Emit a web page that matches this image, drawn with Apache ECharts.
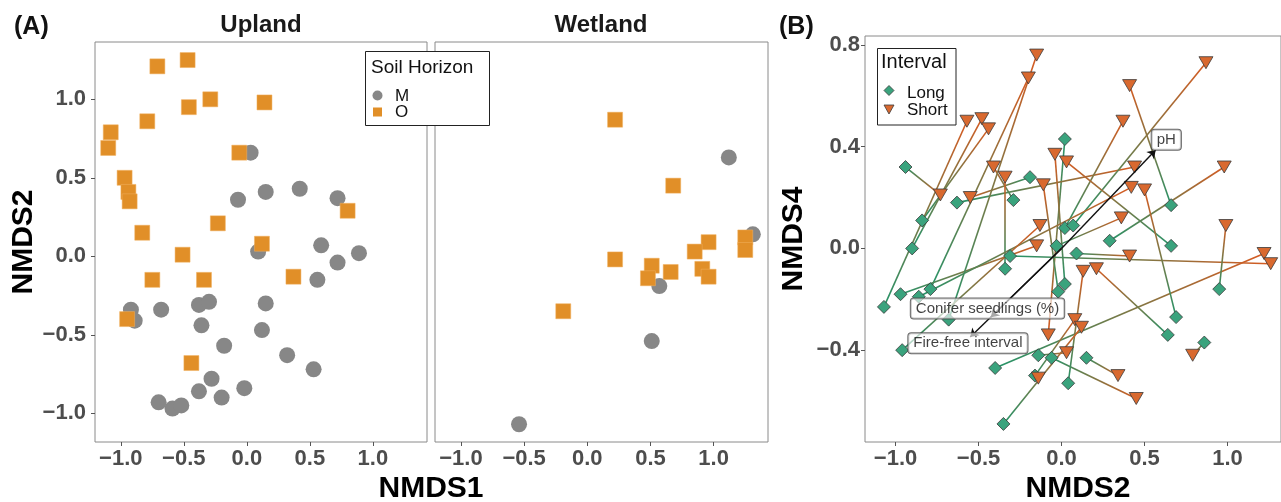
<!DOCTYPE html>
<html>
<head>
<meta charset="utf-8">
<title>NMDS</title>
<script src="https://cdn.jsdelivr.net/npm/echarts@6/dist/echarts.min.js"></script>
<style>
  html, body { margin: 0; padding: 0; background: #fff; }
  #main { width: 1281px; height: 502px; }
</style>
</head>
<body>
<div id="main"></div>
<script>
// ---- panel A : soil horizon, NMDS1 x NMDS2 ----
const uplandM = [[0.03,0.66],[-0.07,0.36],[0.15,0.41],[0.42,0.43],[0.72,0.37],[0.59,0.07],[0.89,0.02],[0.09,0.03],
  [0.72,-0.04],[0.56,-0.15],[-0.92,-0.34],[-0.89,-0.41],[-0.68,-0.34],[-0.38,-0.31],[-0.30,-0.29],[0.15,-0.30],
  [-0.36,-0.44],[0.12,-0.47],[-0.18,-0.57],[0.32,-0.63],[0.53,-0.72],[-0.28,-0.78],[-0.38,-0.86],[-0.02,-0.84],
  [-0.20,-0.90],[-0.70,-0.93],[-0.59,-0.97],[-0.52,-0.95]];
const uplandO = [[-0.71,1.21],[-0.47,1.25],[-0.29,1.00],[-0.46,0.95],[0.14,0.98],[-0.79,0.86],[-1.08,0.79],[-1.10,0.69],
  [-0.06,0.66],[-0.97,0.50],[-0.94,0.41],[-0.93,0.35],[-0.23,0.21],[-0.83,0.15],[0.80,0.29],[0.12,0.08],
  [-0.51,0.01],[-0.75,-0.15],[-0.34,-0.15],[0.37,-0.13],[-0.95,-0.40],[-0.44,-0.68]];
const wetlandM = [[1.12,0.63],[1.31,0.14],[0.57,-0.19],[0.51,-0.54],[-0.54,-1.07]];
const wetlandO = [[0.22,0.87],[0.68,0.45],[1.25,0.12],[1.25,0.04],[0.96,0.09],[0.85,0.03],[0.91,-0.08],[0.96,-0.13],
  [0.22,-0.02],[0.51,-0.06],[0.48,-0.14],[0.66,-0.10],[-0.19,-0.35]];
const ticksA = [-1.0, -0.5, 0.0, 0.5, 1.0];

// ---- panel B : interval, NMDS2 x NMDS4 ----
const longPts = [[-0.94,0.32],[0.02,0.43],[-0.19,0.28],[-0.63,0.18],[-0.29,0.19],[-0.84,0.11],[-0.90,0.00],[0.02,0.08],
  [0.07,0.09],[-0.03,0.01],[0.66,0.17],[0.29,0.03],[0.66,0.01],[0.09,-0.02],[-0.31,-0.03],[-0.34,-0.08],
  [0.02,-0.14],[-0.02,-0.17],[-0.79,-0.16],[-0.97,-0.18],[-1.07,-0.23],[-0.86,-0.19],[-0.68,-0.28],[-0.96,-0.40],
  [-0.14,-0.42],[-0.06,-0.43],[-0.40,-0.47],[0.04,-0.53],[-0.35,-0.69],[-0.16,-0.50],[0.95,-0.16],[0.69,-0.27],
  [0.64,-0.34],[0.86,-0.37],[0.15,-0.43]];
const shortPts = [[-0.15,0.76],[-0.20,0.67],[-0.57,0.50],[-0.48,0.51],[-0.44,0.47],[-0.41,0.32],[-0.34,0.28],[-0.73,0.21],
  [-0.55,0.20],[-0.04,0.37],[0.03,0.34],[-0.11,0.25],[-0.13,0.09],[-0.15,0.01],[0.87,0.73],[0.41,0.64],
  [0.37,0.50],[0.44,0.32],[0.42,0.24],[0.50,0.23],[0.98,0.32],[0.36,0.12],[0.99,0.09],[0.41,-0.03],
  [1.22,-0.02],[1.26,-0.06],[0.13,-0.09],[0.21,-0.08],[0.08,-0.28],[0.12,-0.31],[0.79,-0.42],[0.34,-0.50],
  [0.45,-0.59],[-0.08,-0.34],[0.03,-0.41],[-0.14,-0.51]];
// [long index, short index]
const pairs = [[0,7],[1,33],[2,8],[3,17],[4,5],[5,4],[6,3],[7,16],[8,14],[9,21],[10,15],[11,20],[12,10],[13,23],
  [14,25],[15,6],[16,9],[17,11],[18,1],[19,13],[20,2],[21,18],[22,0],[23,12],[24,34],[25,32],[26,24],[27,26],
  [28,29],[29,28],[30,22],[31,19],[32,27],[33,30],[34,31],[29,35]];
const vectorNames = ['pH', 'Conifer seedlings (%)', 'Fire-free interval'];
const vectorEnds = [[0.567,0.387],[-0.426,-0.271],[-0.550,-0.348]];
const vectorLabelAt = [[0.631,0.427],[-0.446,-0.236],[-0.564,-0.373]];
const ticksBx = [-1.0, -0.5, 0.0, 0.5, 1.0];
const ticksBy = [-0.4, 0.0, 0.4, 0.8];

const GREEN = '#22956a', ORANGE = '#d95a20';
const FONT = 'Liberation Sans, Arial, sans-serif';

function fmt(v) {
  const s = Math.abs(v).toFixed(1);
  return v < -1e-9 ? '\u2212' + s : s;
}

function axis(gi, min, max, ticks, showLabel, showTick, margin) {
  return {
    type: 'value', gridIndex: gi, min: min, max: max,
    splitLine: { show: false }, axisLine: { show: false, onZero: false },
    axisTick: { show: showTick, customValues: ticks, length: 4, lineStyle: { color: '#555', width: 1 } },
    axisLabel: { show: showLabel, customValues: ticks, formatter: fmt, margin: margin,
      fontSize: 22, fontWeight: 'bold', color: '#4d4d4d', fontFamily: FONT }
  };
}

const segData = pairs.map(p => {
  const a = longPts[p[0]], b = shortPts[p[1]];
  const x0 = a[0] <= b[0] ? 0 : 1, y0 = a[1] >= b[1] ? 0 : 1;
  return {
    coords: [a, b],
    lineStyle: { color: new echarts.graphic.LinearGradient(x0, y0, 1 - x0, 1 - y0,
      [{ offset: 0, color: GREEN }, { offset: 1, color: ORANGE }]) }
  };
});

var myChart = echarts.init(document.getElementById('main'));
var option = {
  animation: false,
  grid: [
    { left: 95, top: 42, width: 332, height: 400, show: true, borderColor: '#8a8a8a', borderWidth: 1, backgroundColor: 'transparent' },
    { left: 435, top: 42, width: 333, height: 400, show: true, borderColor: '#8a8a8a', borderWidth: 1, backgroundColor: 'transparent' },
    { left: 865, top: 36, width: 418, height: 406, show: true, borderColor: '#8a8a8a', borderWidth: 1, backgroundColor: 'transparent' }
  ],
  xAxis: [
    axis(0, -1.205, 1.43, ticksA, true, true, 6),
    axis(1, -1.205, 1.43, ticksA, true, true, 6),
    axis(2, -1.184, 1.322, ticksBx, true, true, 6)
  ],
  yAxis: [
    axis(0, -1.183, 1.365, ticksA, true, true, 9),
    axis(1, -1.183, 1.365, ticksA, false, false, 9),
    axis(2, -0.761, 0.835, ticksBy, true, true, 5)
  ],
  series: [
    { type: 'scatter', name: 'M', xAxisIndex: 0, yAxisIndex: 0, data: uplandM, symbol: 'circle', symbolSize: 16,
      itemStyle: { color: '#878787', opacity: 1 }, z: 2 },
    { type: 'scatter', name: 'O', xAxisIndex: 0, yAxisIndex: 0, data: uplandO, symbol: 'rect', symbolSize: 15,
      itemStyle: { color: '#e18f28', borderColor: '#f0b060', borderWidth: 0.5, opacity: 1 }, z: 2 },
    { type: 'scatter', name: 'M', xAxisIndex: 1, yAxisIndex: 1, data: wetlandM, symbol: 'circle', symbolSize: 16,
      itemStyle: { color: '#878787', opacity: 1 }, z: 2 },
    { type: 'scatter', name: 'O', xAxisIndex: 1, yAxisIndex: 1, data: wetlandO, symbol: 'rect', symbolSize: 15,
      itemStyle: { color: '#e18f28', borderColor: '#f0b060', borderWidth: 0.5, opacity: 1 }, z: 2 },
    { type: 'lines', coordinateSystem: 'cartesian2d', xAxisIndex: 2, yAxisIndex: 2, data: segData,
      lineStyle: { width: 1.6, opacity: 1 }, silent: true, z: 1 },
    { type: 'scatter', name: 'Long', xAxisIndex: 2, yAxisIndex: 2, data: longPts, symbol: 'diamond', symbolSize: 13,
      itemStyle: { color: '#3aa37d', borderColor: '#3b3b3b', borderWidth: 0.8, opacity: 1 }, z: 3 },
    { type: 'scatter', name: 'Short', xAxisIndex: 2, yAxisIndex: 2, data: shortPts, symbol: 'triangle', symbolRotate: 180,
      symbolSize: [14, 12], itemStyle: { color: '#d9692f', borderColor: '#3b3b3b', borderWidth: 0.8, opacity: 1 }, z: 3 },
    { type: 'lines', coordinateSystem: 'cartesian2d', xAxisIndex: 2, yAxisIndex: 2,
      data: vectorEnds.map(e => ({ coords: [[0, 0], e] })),
      symbol: ['none', 'arrow'], symbolSize: 8,
      lineStyle: { color: '#111', width: 1.4, opacity: 1 }, silent: true, z: 4 },
    { type: 'scatter', xAxisIndex: 2, yAxisIndex: 2, symbolSize: 0, z: 5,
      data: vectorLabelAt.map((p, i) => ({ value: p, name: vectorNames[i] })),
      label: { show: true, position: 'inside', formatter: '{b}', fontSize: 15, color: '#111', fontFamily: FONT,
        backgroundColor: 'rgba(255,255,255,0.8)', borderColor: '#444', borderWidth: 1, borderRadius: 3, padding: [3, 5, 2, 5] } }
  ],
  graphic: [
    { type: 'text', left: 14, top: 15, style: { text: '(A)', font: 'bold 25px ' + FONT, fill: '#111' } },
    { type: 'text', left: 779, top: 15, style: { text: '(B)', font: 'bold 25px ' + FONT, fill: '#111' } },
    { type: 'text', x: 261, y: 25, style: { text: 'Upland', font: 'bold 24px ' + FONT, fill: '#1a1a1a', align: 'center', verticalAlign: 'middle' } },
    { type: 'text', x: 601, y: 25, style: { text: 'Wetland', font: 'bold 24px ' + FONT, fill: '#1a1a1a', align: 'center', verticalAlign: 'middle' } },
    { type: 'text', x: 431, y: 489, style: { text: 'NMDS1', font: 'bold 30px ' + FONT, fill: '#000', align: 'center', verticalAlign: 'middle' } },
    { type: 'text', x: 1078, y: 489, style: { text: 'NMDS2', font: 'bold 30px ' + FONT, fill: '#000', align: 'center', verticalAlign: 'middle' } },
    { type: 'text', x: 24, y: 242, rotation: Math.PI / 2, style: { text: 'NMDS2', font: 'bold 30px ' + FONT, fill: '#000', align: 'center', verticalAlign: 'middle' } },
    { type: 'text', x: 794, y: 239, rotation: Math.PI / 2, style: { text: 'NMDS4', font: 'bold 30px ' + FONT, fill: '#000', align: 'center', verticalAlign: 'middle' } },
    // soil horizon legend
    { type: 'group', z: 10, children: [
      { type: 'rect', shape: { x: 365.5, y: 51.5, width: 124, height: 74 }, style: { fill: '#fff', stroke: '#222', lineWidth: 1 } },
      { type: 'text', x: 371, y: 68, style: { text: 'Soil Horizon', font: '19px ' + FONT, fill: '#111', verticalAlign: 'middle' } },
      { type: 'circle', shape: { cx: 377.5, cy: 95.5, r: 5 }, style: { fill: '#878787' } },
      { type: 'text', x: 395, y: 96, style: { text: 'M', font: '17px ' + FONT, fill: '#111', verticalAlign: 'middle' } },
      { type: 'rect', shape: { x: 373, y: 107.5, width: 9, height: 9 }, style: { fill: '#e18f28' } },
      { type: 'text', x: 395, y: 112, style: { text: 'O', font: '17px ' + FONT, fill: '#111', verticalAlign: 'middle' } }
    ] },
    // interval legend
    { type: 'group', z: 10, children: [
      { type: 'rect', shape: { x: 877.5, y: 48.5, width: 78.5, height: 76.5 }, style: { fill: '#fff', stroke: '#222', lineWidth: 1 } },
      { type: 'text', x: 881, y: 62, style: { text: 'Interval', font: '20px ' + FONT, fill: '#111', verticalAlign: 'middle' } },
      { type: 'polygon', shape: { points: [[889, 85.5], [894, 90.5], [889, 95.5], [884, 90.5]] }, style: { fill: '#3aa37d', stroke: '#3b3b3b', lineWidth: 0.8 } },
      { type: 'text', x: 907, y: 93, style: { text: 'Long', font: '17px ' + FONT, fill: '#111', verticalAlign: 'middle' } },
      { type: 'polygon', shape: { points: [[884, 105], [894, 105], [889, 114]] }, style: { fill: '#d9692f', stroke: '#3b3b3b', lineWidth: 0.8 } },
      { type: 'text', x: 907, y: 110, style: { text: 'Short', font: '17px ' + FONT, fill: '#111', verticalAlign: 'middle' } }
    ] }
  ]
};
myChart.setOption(option);
window.addEventListener('resize', myChart.resize);
</script>
</body>
</html>
